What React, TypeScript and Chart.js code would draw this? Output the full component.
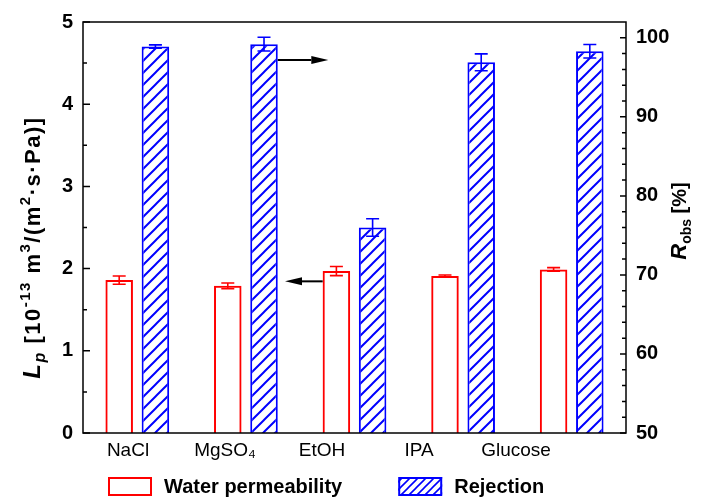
import React, { useEffect, useRef } from "react";
import { Chart, registerables } from "chart.js";

Chart.register(...registerables);

const categories = ["NaCl", "MgSO₄", "EtOH", "IPA", "Glucose"];
const permeability = [1.86, 1.79, 1.97, 1.91, 1.99];
const permeabilityErr = [0.05, 0.035, 0.055, 0.012, 0.022];
const rejection = [98.9, 99.2, 76.0, 96.9, 98.3];
const rejectionErr = [0.2, 0.87, 1.1, 1.07, 0.85];
const leftTicks = [0, 1, 2, 3, 4, 5];
const rightTicks = [50, 60, 70, 80, 90, 100];
const seriesLabels = ["Water permeability", "Rejection"];

// annotation arrows: x in category-index units, y in the axis' units
const arrowToRight = { axis: "y1", y: 97.2, from: 1.293, to: 1.759 };
const arrowToLeft = { axis: "y", y: 1.845, from: 1.707, to: 1.36 };

const FONT = "'Liberation Sans', Arial, sans-serif";
const RED = "#ff0000";
const BLUE = "#0000ff";

function makeHatch(size: number, color: string, lw: number) {
  const c = document.createElement("canvas");
  c.width = size;
  c.height = size;
  const g = c.getContext("2d")!;
  g.fillStyle = "#ffffff";
  g.fillRect(0, 0, size, size);
  g.strokeStyle = color;
  g.lineWidth = lw;
  g.beginPath();
  g.moveTo(0, size);
  g.lineTo(size, 0);
  g.moveTo(-size / 2, size / 2);
  g.lineTo(size / 2, -size / 2);
  g.moveTo(size / 2, size * 1.5);
  g.lineTo(size * 1.5, size / 2);
  g.stroke();
  return g.createPattern(c, "repeat")!;
}

type Seg = { t: string; f: string; dy?: number };

function drawRich(ctx: CanvasRenderingContext2D, segs: Seg[], cx: number, cy: number, spacing: number) {
  ctx.save();
  (ctx as any).letterSpacing = spacing + "px";
  let total = 0;
  for (const s of segs) {
    ctx.font = s.f;
    total += ctx.measureText(s.t).width;
  }
  ctx.translate(cx, cy);
  ctx.rotate(-Math.PI / 2);
  ctx.textBaseline = "alphabetic";
  ctx.textAlign = "left";
  ctx.fillStyle = "#000";
  let x = -total / 2;
  for (const s of segs) {
    ctx.font = s.f;
    ctx.fillText(s.t, x, s.dy || 0);
    x += ctx.measureText(s.t).width;
  }
  ctx.restore();
}

function arrow(ctx: CanvasRenderingContext2D, x0: number, x1: number, y: number) {
  const dir = Math.sign(x1 - x0);
  const head = 17;
  ctx.save();
  ctx.strokeStyle = "#000";
  ctx.fillStyle = "#000";
  ctx.lineWidth = 2;
  ctx.beginPath();
  ctx.moveTo(x0, y);
  ctx.lineTo(x1 - dir * head, y);
  ctx.stroke();
  ctx.beginPath();
  ctx.moveTo(x1, y);
  ctx.lineTo(x1 - dir * head, y - 4);
  ctx.lineTo(x1 - dir * head, y + 4);
  ctx.closePath();
  ctx.fill();
  ctx.restore();
}

let legendHatch: CanvasPattern | null = null;

const overlay = {
  id: "overlay",
  afterDatasetsDraw(chart: any) {
    const ctx: CanvasRenderingContext2D = chart.ctx;
    const errs = [permeabilityErr, rejectionErr];
    const vals = [permeability, rejection];
    chart.data.datasets.forEach((ds: any, di: number) => {
      const meta = chart.getDatasetMeta(di);
      const ys = meta.yScale;
      ctx.save();
      ctx.strokeStyle = ds.borderColor;
      ctx.lineWidth = 1.6;
      meta.data.forEach((el: any, i: number) => {
        const x = el.x;
        const top = ys.getPixelForValue(vals[di][i] + errs[di][i]);
        const bot = ys.getPixelForValue(vals[di][i] - errs[di][i]);
        const cw = 6.5;
        ctx.beginPath();
        ctx.moveTo(x, top);
        ctx.lineTo(x, bot);
        ctx.moveTo(x - cw, top);
        ctx.lineTo(x + cw, top);
        ctx.moveTo(x - cw, bot);
        ctx.lineTo(x + cw, bot);
        ctx.stroke();
      });
      ctx.restore();
    });
    const xs = chart.scales.x;
    for (const a of [arrowToRight, arrowToLeft]) {
      const y = chart.scales[a.axis].getPixelForValue(a.y);
      arrow(ctx, xs.getPixelForValue(a.from), xs.getPixelForValue(a.to), y);
    }
  },
  afterDraw(chart: any) {
    const ctx: CanvasRenderingContext2D = chart.ctx;
    const a = chart.chartArea;
    const yL = chart.scales.y;
    const yR = chart.scales.y1;
    ctx.save();
    ctx.strokeStyle = "#000";
    ctx.lineWidth = 1.5;
    ctx.beginPath();
    for (let v = 0; v <= 5.0001; v += 0.5) {
      const p = yL.getPixelForValue(v);
      const len = Math.abs(v - Math.round(v)) < 1e-6 ? 7 : 4;
      ctx.moveTo(a.left, p);
      ctx.lineTo(a.left + len, p);
    }
    for (let v = 50; v <= 100.0001; v += 2) {
      const p = yR.getPixelForValue(v);
      const len = v % 10 === 0 ? 6 : 4;
      ctx.moveTo(a.right, p);
      ctx.lineTo(a.right - len, p);
    }
    ctx.stroke();
    ctx.lineWidth = 1.5;
    ctx.strokeRect(a.left, a.top, a.right - a.left, a.bottom - a.top);
    ctx.restore();

    drawRich(
      ctx,
      [
        { t: "L", f: `italic bold 24px ${FONT}` },
        { t: "p", f: `italic bold 16px ${FONT}`, dy: 5 },
        { t: " [10", f: `bold 22px ${FONT}` },
        { t: "-13", f: `bold 15px ${FONT}`, dy: -10 },
        { t: " m", f: `bold 22px ${FONT}` },
        { t: "3", f: `bold 15px ${FONT}`, dy: -10 },
        { t: "/(m", f: `bold 22px ${FONT}` },
        { t: "2", f: `bold 15px ${FONT}`, dy: -10 },
        { t: "·s·Pa)]", f: `bold 22px ${FONT}` },
      ],
      a.left - 43,
      (a.top + a.bottom) / 2 + 20,
      1.5
    );
    drawRich(
      ctx,
      [
        { t: "R", f: `italic bold 22px ${FONT}` },
        { t: "obs", f: `bold 14px ${FONT}`, dy: 5 },
        { t: " [%]", f: `bold 20px ${FONT}` },
      ],
      a.right + 60,
      (a.top + a.bottom) / 2 - 6.5,
      0
    );

    ctx.save();
    const ly = a.bottom + 44;
    const bw = 44;
    const bh = 19;
    ctx.font = `bold 20px ${FONT}`;
    ctx.textBaseline = "middle";
    ctx.textAlign = "left";
    let x = a.left + 25;
    chart.data.datasets.forEach((ds: any, i: number) => {
      ctx.fillStyle = i === 1 && legendHatch ? legendHatch : "#fff";
      ctx.fillRect(x, ly, bw, bh);
      ctx.strokeStyle = ds.borderColor;
      ctx.lineWidth = 2;
      ctx.strokeRect(x + 1, ly + 1, bw - 2, bh - 2);
      ctx.fillStyle = "#000";
      ctx.fillText(seriesLabels[i], x + bw + 12, ly + bh / 2 + 1);
      x += bw + 12 + ctx.measureText(seriesLabels[i]).width + 56;
    });
    ctx.restore();
  },
};

export default function App() {
  const ref = useRef<HTMLCanvasElement>(null);
  useEffect(() => {
    document.body.style.margin = "0";
    const canvas = ref.current!;
    const hatch = makeHatch(12, BLUE, 2);
    legendHatch = makeHatch(8, BLUE, 1.6);
    const chart = new Chart(canvas, {
      type: "bar",
      data: {
        labels: categories,
        datasets: [
          {
            label: seriesLabels[0],
            data: permeability,
            yAxisID: "y",
            xAxisID: "x",
            backgroundColor: "rgba(255,255,255,0)",
            borderColor: RED,
            borderWidth: 2,
            categoryPercentage: 0.667,
            barPercentage: 0.76,
          },
          {
            label: seriesLabels[1],
            data: rejection,
            yAxisID: "y1",
            xAxisID: "x",
            backgroundColor: hatch as any,
            borderColor: BLUE,
            borderWidth: 2,
            categoryPercentage: 0.667,
            barPercentage: 0.76,
          },
        ],
      },
      options: {
        responsive: false,
        animation: false,
        devicePixelRatio: 1,
        layout: { padding: { top: 22, bottom: 34, left: 0, right: 0 } },
        plugins: { legend: { display: false }, tooltip: { enabled: false } },
        scales: {
          x: { type: "category", display: false, offset: true },
          xl: {
            type: "linear",
            position: "bottom",
            bounds: "data",
            offset: false,
            min: -0.464,
            max: 5.134,
            grid: { display: false, drawTicks: false, offset: false },
            border: { display: false },
            afterBuildTicks: (s: any) => {
              s.ticks = categories.map((_, i) => ({ value: i }));
            },
            afterFit: (s: any) => {
              s.height = 30;
            },
            ticks: {
              autoSkip: false,
              maxRotation: 0,
              padding: 6,
              color: "#000",
              font: { family: FONT, size: 19 },
              callback: (v: any) => categories[v as number] ?? "",
            },
          },
          y: {
            type: "linear",
            position: "left",
            min: 0,
            max: 5,
            grid: { display: false, drawTicks: false },
            border: { display: false },
            afterBuildTicks: (s: any) => {
              s.ticks = leftTicks.map((v) => ({ value: v }));
            },
            afterFit: (s: any) => {
              s.width = 83;
            },
            ticks: {
              padding: 10,
              color: "#000",
              font: { family: FONT, size: 20, weight: "bold" },
            },
          },
          y1: {
            type: "linear",
            position: "right",
            min: 50,
            max: 102,
            grid: { display: false, drawTicks: false },
            border: { display: false },
            afterBuildTicks: (s: any) => {
              s.ticks = rightTicks.map((v) => ({ value: v }));
            },
            afterFit: (s: any) => {
              s.width = 90;
            },
            ticks: {
              padding: 10,
              color: "#000",
              font: { family: FONT, size: 20, weight: "bold" },
            },
          },
        },
      } as any,
      plugins: [overlay],
    });
    return () => chart.destroy();
  }, []);
  return <canvas ref={ref} width={716} height={497} style={{ display: "block" }} />;
}
